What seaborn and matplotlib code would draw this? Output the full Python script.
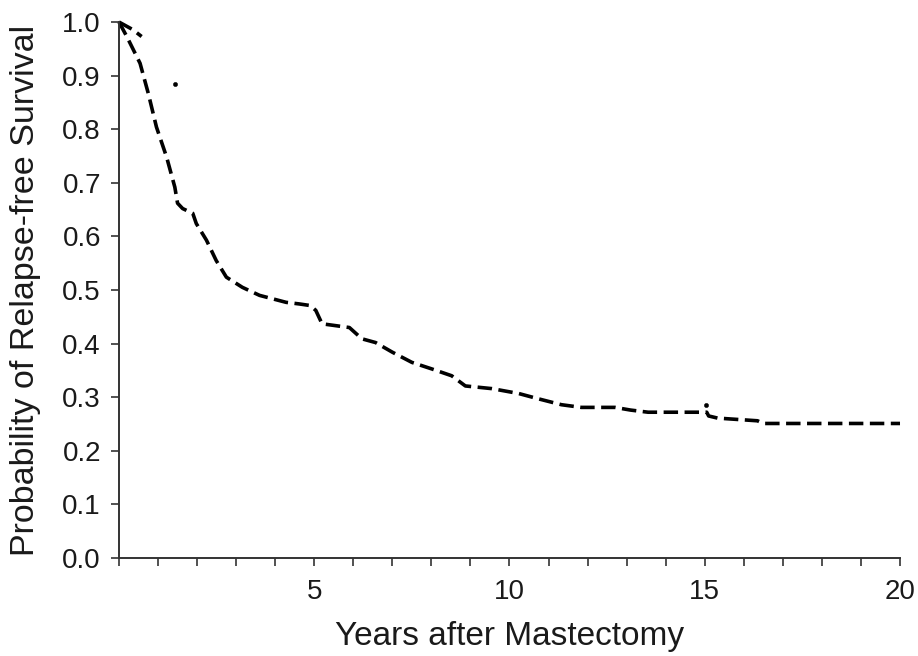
import numpy as np
import pandas as pd
import matplotlib
matplotlib.use('Agg')
import matplotlib.pyplot as plt
import seaborn as sns

# main relapse-free survival curve
anos = [0, 0.2, 0.54, 0.75, 0.96, 1.22, 1.43, 1.5, 1.63, 1.89,
        1.98, 2.24, 2.49, 2.75, 3.16, 3.6, 4.28, 4.62, 4.9, 5.04,
        5.2, 5.9, 6.22, 6.57, 7.0, 7.5, 8.0, 8.52, 8.87, 9.55,
        10.23, 10.74, 11.33, 11.84, 12.7, 13.1, 13.55, 14.5, 15.05, 15.1,
        15.33, 16.35, 16.5, 20.0]
sobrevida = [1.0, 0.973, 0.923, 0.867, 0.804, 0.748, 0.692, 0.662, 0.652, 0.643,
             0.624, 0.593, 0.555, 0.524, 0.505, 0.49, 0.477, 0.474, 0.471, 0.462,
             0.437, 0.43, 0.409, 0.402, 0.384, 0.365, 0.353, 0.34, 0.321, 0.316,
             0.307, 0.297, 0.286, 0.281, 0.281, 0.276, 0.272, 0.272, 0.272, 0.265,
             0.261, 0.256, 0.251, 0.251]

# short branch at the top left
anos_topo = [0, 0.35, 0.58]
sobrevida_topo = [1.0, 0.986, 0.973]

# isolated marks
anos_marca = [1.43, 15.03]
sobrevida_marca = [0.885, 0.285]

x_ticks = list(range(0, 21))
x_labels = [str(t) if t % 5 == 0 and t > 0 else '' for t in x_ticks]
y_ticks = [round(0.1 * i, 1) for i in range(11)]

sns.set_style('ticks')
plt.rcParams['font.family'] = ['Liberation Sans', 'DejaVu Sans']

df = pd.DataFrame({'anos': anos, 'sobrevida': sobrevida})
df_topo = pd.DataFrame({'anos': anos_topo, 'sobrevida': sobrevida_topo})
df_marca = pd.DataFrame({'anos': anos_marca, 'sobrevida': sobrevida_marca})

fig = plt.figure(figsize=(9.18, 6.56), dpi=100)
ax = fig.add_axes([0.1296, 0.1494, 0.8508, 0.817])

sns.lineplot(x='anos', y='sobrevida', data=df, estimator=None, sort=False,
             color='black', linewidth=2.6, ax=ax)
sns.lineplot(x='anos', y='sobrevida', data=df_topo, estimator=None, sort=False,
             color='black', linewidth=2.6, ax=ax)
for ln in ax.lines:
    ln.set_dashes([4.0, 1.8])
    ln.set_clip_on(False)

sns.scatterplot(x='anos', y='sobrevida', data=df_marca, color='black',
                s=10, edgecolor='black', ax=ax)

ax.set_xlim(0, 20)
ax.set_ylim(0, 1.0)
ax.set_xticks(x_ticks)
ax.set_xticklabels(x_labels)
ax.set_yticks(y_ticks)
ax.set_yticklabels([f'{v:.1f}' for v in y_ticks])

ax.tick_params(axis='both', labelsize=20, length=6, width=1.2,
               color='#333333', labelcolor='#1a1a1a', direction='out')
ax.tick_params(axis='x', pad=9)
ax.tick_params(axis='y', pad=7)

for s in ['left', 'bottom']:
    ax.spines[s].set_linewidth(1.4)
    ax.spines[s].set_color('#333333')
sns.despine(ax=ax)

ax.set_xlabel('Years after Mastectomy', fontsize=24, color='#1a1a1a', labelpad=12)
ax.set_ylabel('Probability of Relapse-free Survival', fontsize=24.5,
              color='#1a1a1a', labelpad=15)

plt.savefig('out.png', dpi=100)
